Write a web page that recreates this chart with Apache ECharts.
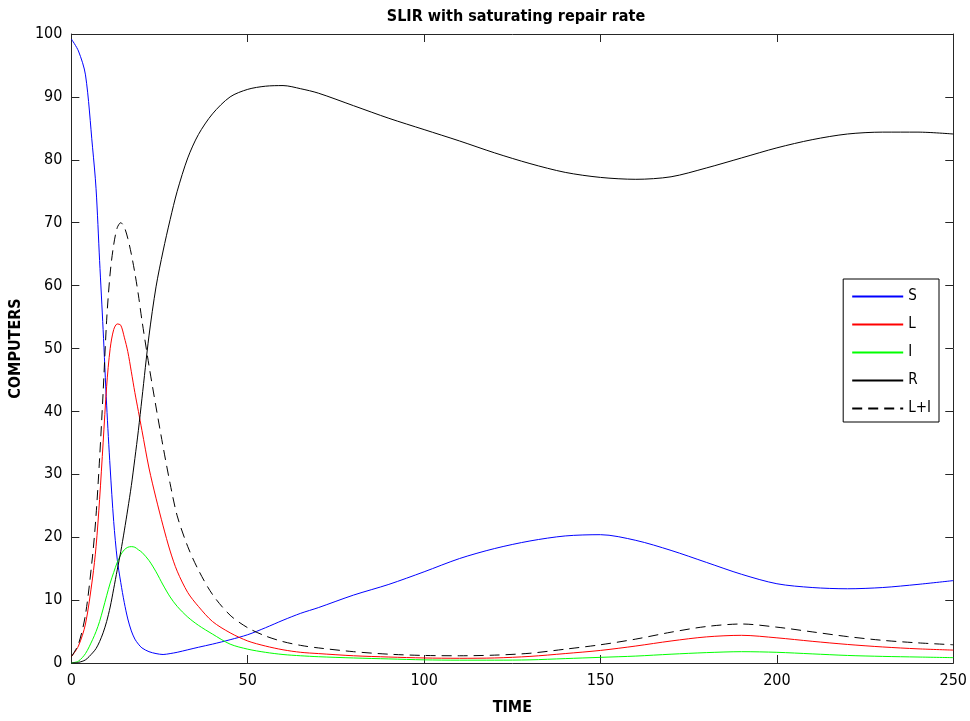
<!DOCTYPE html>
<html>
<head>
<meta charset="utf-8">
<script src="https://cdn.jsdelivr.net/npm/echarts@6/dist/echarts.min.js"></script>
<style>
  html, body { margin: 0; padding: 0; background: #ffffff; }
  #chart { width: 970px; height: 721px; }
</style>
</head>
<body>
<div id="chart"></div>
<script>
// SLIR model with saturating repair rate: time grid and population of each compartment
var timeSteps = [0, 2, 4, 6, 7, 8, 9, 10, 11, 12, 13, 14, 15, 16, 17, 18, 19, 20, 22, 24, 26, 28, 30, 33, 36, 40, 45, 50, 55, 60, 65, 70, 80, 90, 100, 110, 120, 130, 140, 150, 160, 170, 180, 190, 200, 210, 220, 230, 240, 250];

var susceptible = [99.2, 97.3, 93.5, 82, 75.4, 64, 53, 41, 31, 22.5, 16.5, 12.8, 9.6, 7.0, 5.1, 3.8, 3.0, 2.4, 1.8, 1.5, 1.35, 1.5, 1.7, 2.1, 2.5, 3.0, 3.7, 4.5, 5.6, 6.8, 7.9, 8.8, 10.8, 12.5, 14.5, 16.6, 18.2, 19.4, 20.2, 20.4, 19.5, 17.9, 16.0, 14.1, 12.6, 12.0, 11.8, 12.0, 12.5, 13.1];

var latent = [1.0, 2.7, 6.2, 13.5, 18.5, 26, 35, 44, 50, 53, 53.9, 53.7, 51.8, 49.5, 46.3, 43, 40, 37, 31, 26.2, 21.8, 17.8, 14.6, 11.2, 9.0, 6.6, 4.8, 3.5, 2.7, 2.1, 1.7, 1.5, 1.15, 0.95, 0.8, 0.75, 0.8, 1.05, 1.5, 2.0, 2.7, 3.5, 4.15, 4.4, 4.0, 3.45, 2.95, 2.55, 2.25, 2.05];

var infected = [0.0, 0.3, 1.5, 3.7, 5.0, 6.6, 8.6, 10.7, 12.7, 14.4, 16.0, 17.2, 18.0, 18.4, 18.5, 18.4, 18.0, 17.6, 16.3, 14.5, 12.4, 10.5, 9.0, 7.3, 6.0, 4.6, 3.0, 2.2, 1.7, 1.35, 1.15, 1.0, 0.8, 0.65, 0.5, 0.45, 0.45, 0.5, 0.7, 0.9, 1.1, 1.4, 1.65, 1.8, 1.7, 1.45, 1.2, 1.05, 0.95, 0.85];

var recovered = [0, 0.1, 0.5, 1.6, 2.3, 3.4, 4.8, 6.6, 8.9, 11.8, 14.8, 17.7, 21, 24.5, 28.2, 32.5, 37, 42, 52, 59.8, 65.5, 70.5, 75.0, 80.3, 84.0, 87.3, 90.0, 91.2, 91.7, 91.8, 91.3, 90.6, 88.6, 86.6, 84.8, 83.0, 81.1, 79.4, 78.0, 77.2, 76.9, 77.3, 78.7, 80.3, 81.9, 83.2, 84.1, 84.4, 84.4, 84.1];

var latentPlusInfected = [1.0, 3.0, 7.7, 17, 23.5, 32.5, 43, 54.5, 62, 66.5, 69.2, 70.0, 69.3, 67.5, 65, 62, 58.5, 54.5, 47.3, 40.7, 34.4, 28.5, 23.4, 18.5, 14.8, 10.9, 7.6, 5.6, 4.3, 3.4, 2.8, 2.4, 1.8, 1.4, 1.2, 1.15, 1.25, 1.55, 2.2, 2.9, 3.8, 4.9, 5.8, 6.2, 5.7, 4.95, 4.2, 3.6, 3.2, 2.9];

var xTicks = [0, 50, 100, 150, 200, 250];
var yTicks = [0, 10, 20, 30, 40, 50, 60, 70, 80, 90, 100];

function pairs(values) {
  return timeSteps.map(function (t, i) { return [t, values[i]]; });
}

var FONT = '"Liberation Sans Narrow", "DejaVu Sans Condensed", "Liberation Sans", sans-serif';
var AXIS_COLOR = '#262626';

var chart = echarts.init(document.getElementById('chart'), null, { renderer: 'canvas' });

function lineSeries(name, values, color, dashed) {
  return {
    name: name,
    type: 'line',
    data: pairs(values),
    showSymbol: false,
    symbol: 'none',
    smooth: 0.3,
    animation: false,
    lineStyle: { color: color, width: 1, type: dashed ? [10, 6] : 'solid' },
    itemStyle: { color: color }
  };
}

var frameAxisCommon = {
  axisLine: { show: true, onZero: false, lineStyle: { color: AXIS_COLOR, width: 1 } },
  axisTick: { show: true, inside: true, length: 8, lineStyle: { color: AXIS_COLOR, width: 1 } },
  splitLine: { show: false }
};

chart.setOption({
  backgroundColor: '#ffffff',
  animation: false,
  title: {
    text: 'SLIR with saturating repair rate',
    left: 511,
    textAlign: 'center',
    top: 4,
    textStyle: { fontFamily: FONT, fontSize: 16, fontWeight: 'bold', color: '#000000' }
  },
  grid: { left: 67, top: 34, width: 888, height: 635, containLabel: false },
  legend: {
    right: 31,
    top: 279,
    orient: 'vertical',
    backgroundColor: '#ffffff',
    borderColor: '#000000',
    borderWidth: 1,
    padding: [10, 8, 6, 8],
    itemWidth: 51,
    itemHeight: 14,
    itemGap: 13,
    itemStyle: { opacity: 0 },
    textStyle: { fontFamily: FONT, fontSize: 15, color: '#000000' },
    data: ['S', 'L', 'I', 'R', 'L+I']
  },
  xAxis: [
    Object.assign({
      type: 'value', position: 'bottom', min: xTicks[0], max: xTicks[xTicks.length - 1], interval: 50,
      name: 'TIME', nameLocation: 'middle', nameGap: 37,
      nameTextStyle: { fontFamily: FONT, fontSize: 16, fontWeight: 'bold', color: '#000000' },
      axisLabel: { fontFamily: FONT, fontSize: 16, color: '#000000', margin: 10 }
    }, frameAxisCommon),
    Object.assign({
      type: 'value', position: 'top', min: xTicks[0], max: xTicks[xTicks.length - 1], interval: 50,
      axisLabel: { show: false }
    }, frameAxisCommon)
  ],
  yAxis: [
    Object.assign({
      type: 'value', position: 'left', min: yTicks[0], max: yTicks[yTicks.length - 1], interval: 10,
      name: 'COMPUTERS', nameLocation: 'middle', nameGap: 46, nameRotate: 90,
      nameTextStyle: { fontFamily: FONT, fontSize: 16, fontWeight: 'bold', color: '#000000' },
      axisLabel: { fontFamily: FONT, fontSize: 16, color: '#000000', margin: 9 }
    }, frameAxisCommon),
    Object.assign({
      type: 'value', position: 'right', min: yTicks[0], max: yTicks[yTicks.length - 1], interval: 10,
      axisLabel: { show: false }
    }, frameAxisCommon)
  ],
  series: [
    lineSeries('S', susceptible, '#0000ff', false),
    lineSeries('L', latent, '#ff0000', false),
    lineSeries('I', infected, '#00ff00', false),
    lineSeries('R', recovered, '#000000', false),
    lineSeries('L+I', latentPlusInfected, '#000000', true)
  ]
});
</script>
</body>
</html>
